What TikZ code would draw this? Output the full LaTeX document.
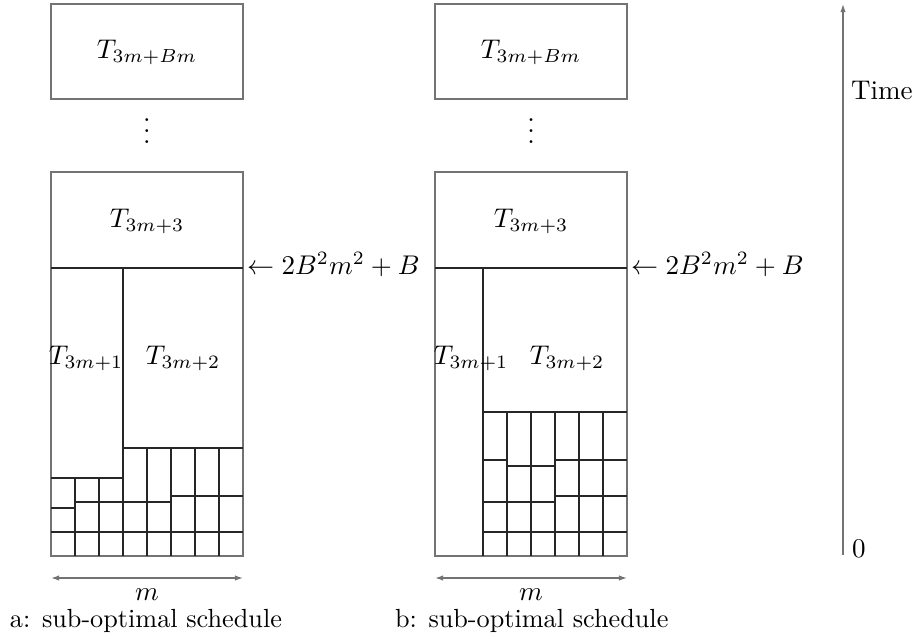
\documentclass[tikz,border=0pt]{standalone}
\usetikzlibrary{arrows.meta}
\begin{document}
\begin{tikzpicture}[x=0.37pt,y=-0.37pt,
  outer/.style={draw=black!55, line width=0.45pt},
  inner/.style={draw=black!85, line width=0.55pt},
  lbl/.style={inner sep=0pt, outer sep=0pt},
  captext/.style={lbl, anchor=base west, font=\fontsize{9.7}{12}\selectfont},
  dim/.style={outer, {Latex[length=3pt,width=2pt]}-{Latex[length=3pt,width=2pt]}},
]
\useasboundingbox (0,0) rectangle (913,639);

% ---------------- left schedule (a) ----------------
\draw[outer] (51,4) rectangle (243,99);
\node[lbl] (aTop) at (147,52) {$T_{3m+Bm}$};
\node[lbl, anchor=base] (aDots) at (147,143.5) {\vdots};
\draw[outer] (51,172) rectangle (243,556);
\node[lbl] (aT3) at (147,221) {$T_{3m+3}$};
\draw[inner] (51,268) -- (243,268);
\draw[inner] (123,268) -- (123,556);
\draw[inner] (123,448) -- (243,448);
\draw[inner] (51,478) -- (123,478);
\draw[inner] (171,496) -- (243,496);
\draw[inner] (75,502) -- (171,502);
\draw[inner] (51,508) -- (75,508);
\draw[inner] (51,532) -- (243,532);
\foreach \x in {75,99} \draw[inner] (\x,478) -- (\x,556);
\foreach \x in {147,171,195,219} \draw[inner] (\x,448) -- (\x,556);
\node[lbl] (aT1) at (86,358) {$T_{3m+1}$};
\node[lbl] (aT2) at (183,358) {$T_{3m+2}$};
\node[lbl, anchor=base west] (aMark) at (247,274.5) {$\leftarrow 2B^2m^2+B$};
\coordinate (aL) at (51,578);
\coordinate (aR) at (243,578);
\draw[dim] (aL) -- (aR);
\node[lbl, anchor=base] (aM) at (147,600) {$m$};
\node[captext] (aCap) at (10,627) {a: sub-optimal schedule};

% ---------------- right schedule (b) ----------------
\draw[outer] (435,4) rectangle (627,99);
\node[lbl] (bTop) at (531,52) {$T_{3m+Bm}$};
\node[lbl, anchor=base] (bDots) at (531,143.5) {\vdots};
\draw[outer] (435,172) rectangle (627,556);
\node[lbl] (bT3) at (531,221) {$T_{3m+3}$};
\draw[inner] (435,268) -- (627,268);
\draw[inner] (483,268) -- (483,556);
\draw[inner] (483,412) -- (627,412);
\draw[inner] (483,460) -- (507,460);
\draw[inner] (555,460) -- (627,460);
\draw[inner] (507,466) -- (555,466);
\draw[inner] (555,496) -- (627,496);
\draw[inner] (483,502) -- (555,502);
\draw[inner] (483,532) -- (627,532);
\foreach \x in {507,531,555,579,603} \draw[inner] (\x,412) -- (\x,556);
\node[lbl] (bT1) at (471,358) {$T_{3m+1}$};
\node[lbl] (bT2) at (567,358) {$T_{3m+2}$};
\node[lbl, anchor=base west] (bMark) at (631,274.5) {$\leftarrow 2B^2m^2+B$};
\coordinate (bL) at (435,578);
\coordinate (bR) at (627,578);
\draw[dim] (bL) -- (bR);
\node[lbl, anchor=base] (bM) at (531,600) {$m$};
\node[captext] (bCap) at (395,627) {b: sub-optimal schedule};

% ---------------- time axis ----------------
\coordinate (t0) at (843,555);
\coordinate (t1) at (843,4);
\draw[outer, -{Latex[length=3pt,width=2pt]}] (t0) -- (t1);
\node[lbl, anchor=base west] (time) at (851,100) {Time};
\node[lbl, anchor=base west] (zero) at (852,557) {0};
\end{tikzpicture}
\end{document}
